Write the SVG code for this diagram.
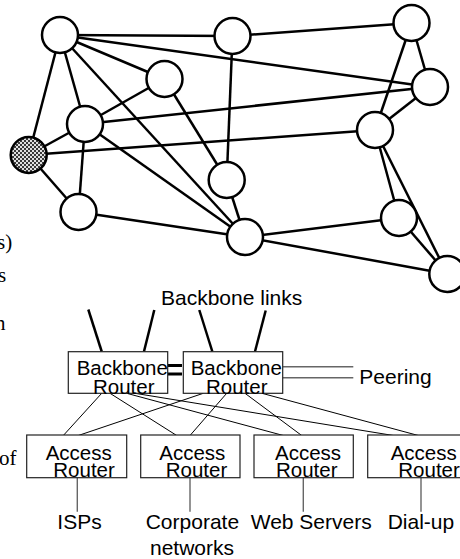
<svg xmlns="http://www.w3.org/2000/svg" width="460" height="559" viewBox="0 0 460 559">
  <style>
    .node { fill: #fff; stroke: #000; stroke-width: 2.5; }
    .link { stroke: #000; stroke-width: 2.5; fill: none; }
    .thin { stroke: #000; stroke-width: 1; fill: none; }
    .gray { stroke: #666; stroke-width: 1.4; fill: none; }
    .box { fill: #fff; stroke: #222; stroke-width: 1.2; }
    .lbl { font-family: "Liberation Sans", Arial, sans-serif; font-size: 21px; fill: #000; }
    .btx { font-family: "Liberation Sans", Arial, sans-serif; font-size: 20.5px; fill: #000; }
    .frag { font-family: "Liberation Serif", "Times New Roman", serif; font-size: 21px; fill: #000; }
  </style>
  <defs>
    <pattern id="checker" width="4" height="4" patternUnits="userSpaceOnUse">
      <rect width="4" height="4" fill="#e0e0e0"/>
      <rect width="2" height="2" fill="#3a3a3a"/>
      <rect x="2" y="2" width="2" height="2" fill="#3a3a3a"/>
    </pattern>
  </defs>
  <rect width="460" height="559" fill="#fff"/>

  <!-- text running in from the left margin -->
  <g id="margin-text">
    <text class="frag" x="-3" y="249">s)</text>
    <text class="frag" x="-2" y="282">s</text>
    <text class="frag" x="-5" y="330">n</text>
    <text class="frag" x="-1" y="465">of</text>
  </g>

  <!-- backbone mesh links -->
  <g id="mesh-links" class="link">
    <line x1="60" y1="35" x2="232.5" y2="36"/>
    <line x1="60" y1="35" x2="430" y2="87"/>
    <line x1="60" y1="35" x2="164.5" y2="79"/>
    <line x1="60" y1="35" x2="85" y2="124"/>
    <line x1="60" y1="35" x2="28.7" y2="155"/>
    <line x1="60" y1="35" x2="245" y2="237"/>
    <line x1="164.5" y1="79" x2="85" y2="124"/>
    <line x1="164.5" y1="79" x2="226.7" y2="180"/>
    <line x1="85" y1="124" x2="430" y2="87"/>
    <line x1="85" y1="124" x2="28.7" y2="155"/>
    <line x1="85" y1="124" x2="78.5" y2="212"/>
    <line x1="85" y1="124" x2="245" y2="237"/>
    <line x1="28.7" y1="155" x2="375" y2="130"/>
    <line x1="28.7" y1="155" x2="78.5" y2="212"/>
    <line x1="78.5" y1="212" x2="245" y2="237"/>
    <line x1="232.5" y1="36" x2="411.5" y2="23"/>
    <line x1="232.5" y1="36" x2="226.7" y2="180"/>
    <line x1="226.7" y1="180" x2="245" y2="237"/>
    <line x1="245" y1="237" x2="399" y2="218"/>
    <line x1="245" y1="237" x2="447.3" y2="274"/>
    <line x1="411.5" y1="23" x2="430" y2="87"/>
    <line x1="411.5" y1="23" x2="375" y2="130"/>
    <line x1="430" y1="87" x2="375" y2="130"/>
    <line x1="375" y1="130" x2="399" y2="218"/>
    <line x1="375" y1="130" x2="447.3" y2="274"/>
    <line x1="399" y1="218" x2="447.3" y2="274"/>
  </g>

  <!-- mesh routers -->
  <g id="n-a"><circle class="node" cx="60" cy="35" r="18"/></g>
  <g id="n-b"><circle class="node" cx="164.5" cy="79" r="18"/></g>
  <g id="n-c"><circle class="node" cx="85" cy="124" r="18"/></g>
  <g id="n-d"><circle class="node" cx="28.7" cy="155" r="18" style="fill:url(#checker)"/></g>
  <g id="n-e"><circle class="node" cx="78.5" cy="212" r="18"/></g>
  <g id="n-f"><circle class="node" cx="232.5" cy="36" r="18"/></g>
  <g id="n-m"><circle class="node" cx="226.7" cy="180" r="18"/></g>
  <g id="n-l"><circle class="node" cx="245" cy="237" r="18"/></g>
  <g id="n-g"><circle class="node" cx="411.5" cy="23" r="18"/></g>
  <g id="n-h"><circle class="node" cx="430" cy="87" r="18"/></g>
  <g id="n-i"><circle class="node" cx="375" cy="130" r="18"/></g>
  <g id="n-j"><circle class="node" cx="399" cy="218" r="18"/></g>
  <g id="n-k"><circle class="node" cx="447.3" cy="274" r="18"/></g>

  <!-- router detail: links -->
  <g id="connectors">
    <g class="link">
      <line x1="88.3" y1="309.5" x2="101.7" y2="351.5"/>
      <line x1="154.3" y1="310" x2="144" y2="351.5"/>
      <line x1="199.3" y1="310" x2="212.3" y2="351.5"/>
      <line x1="265.7" y1="310.5" x2="255" y2="351.5"/>
    </g>
    <g stroke="#000" stroke-width="3">
      <line x1="167.7" y1="365.5" x2="182" y2="365.5"/>
      <line x1="167.7" y1="374" x2="182" y2="374"/>
    </g>
    <g class="gray">
      <line x1="282.7" y1="366.7" x2="353.3" y2="366.7"/>
      <line x1="282.7" y1="377.7" x2="353.3" y2="377.7"/>
    </g>
    <g class="thin">
      <line x1="101.7" y1="393.3" x2="63.3" y2="435.5"/>
      <line x1="110" y1="393.3" x2="176.7" y2="435.5"/>
      <line x1="126.7" y1="393.3" x2="283.3" y2="435.5"/>
      <line x1="135" y1="393.3" x2="393.3" y2="435.5"/>
      <line x1="203.3" y1="393.3" x2="78.3" y2="435.5"/>
      <line x1="226.7" y1="393.3" x2="190" y2="435.5"/>
      <line x1="245" y1="393.3" x2="301.7" y2="435.5"/>
      <line x1="262" y1="393.3" x2="418.3" y2="435.5"/>
    </g>
    <g class="gray">
      <line x1="77.3" y1="477.7" x2="77.3" y2="511.7"/>
      <line x1="190" y1="477.7" x2="190" y2="511.7"/>
      <line x1="303.3" y1="477.7" x2="303.3" y2="511.7"/>
      <line x1="421" y1="477.7" x2="421" y2="511.7"/>
    </g>
  </g>

  <text class="lbl" x="161" y="305">Backbone links</text>
  <text class="lbl" x="359.3" y="383.5">Peering</text>

  <g id="backbone-1">
    <rect class="box" x="68.3" y="351.7" width="99.4" height="41.6"/>
    <text class="btx" x="76.7" y="375">Backbone</text>
    <text class="btx" x="93" y="393.5">Router</text>
  </g>
  <g id="backbone-2">
    <rect class="box" x="183.3" y="351.7" width="99.4" height="41.6"/>
    <text class="btx" x="190.7" y="375">Backbone</text>
    <text class="btx" x="206" y="393.5">Router</text>
  </g>

  <g id="access-1">
    <rect class="box" x="26.7" y="435" width="100" height="42.7"/>
    <text class="btx" x="45.7" y="460">Access</text>
    <text class="btx" x="53.3" y="476.5">Router</text>
  </g>
  <g id="access-2">
    <rect class="box" x="140.7" y="435" width="99.3" height="42.7"/>
    <text class="btx" x="159.3" y="460">Access</text>
    <text class="btx" x="165.7" y="476.5">Router</text>
  </g>
  <g id="access-3">
    <rect class="box" x="254" y="435" width="99.3" height="42.7"/>
    <text class="btx" x="275" y="460">Access</text>
    <text class="btx" x="276" y="476.5">Router</text>
  </g>
  <g id="access-4">
    <rect class="box" x="367.7" y="435" width="100" height="42.7"/>
    <text class="btx" x="390.7" y="460">Access</text>
    <text class="btx" x="398.3" y="476.5">Router</text>
  </g>

  <g id="customers">
    <text class="lbl" x="57.3" y="529">ISPs</text>
    <text class="lbl" x="145.7" y="529">Corporate</text>
    <text class="lbl" x="150" y="555">networks</text>
    <text class="lbl" x="250.7" y="529">Web Servers</text>
    <text class="lbl" x="387.7" y="529">Dial-up</text>
  </g>
</svg>
